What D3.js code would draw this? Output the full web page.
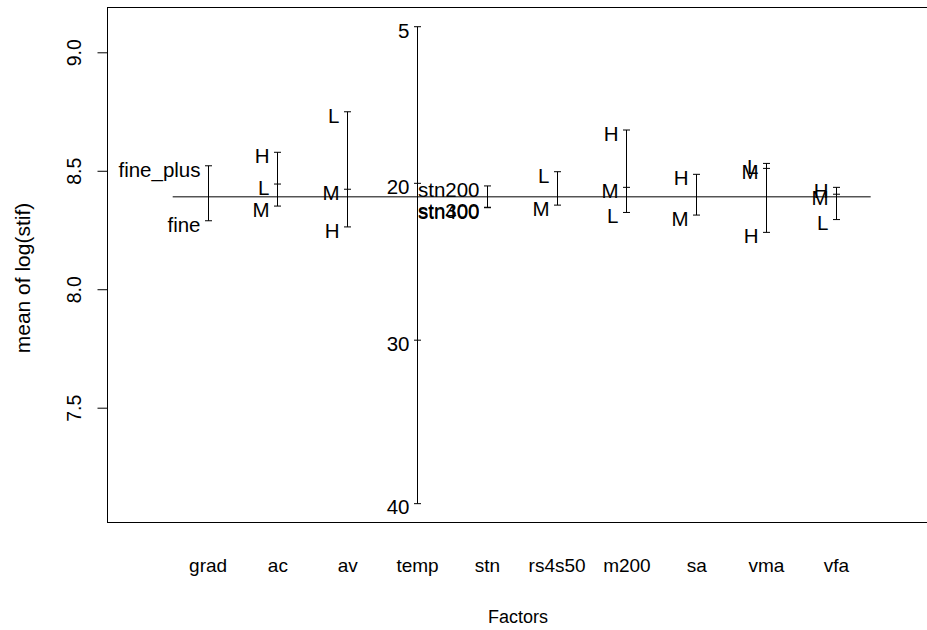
<!DOCTYPE html>
<html>
<head>
<meta charset="utf-8">
<script src="https://cdn.jsdelivr.net/npm/d3@7"></script>
<style>
  html, body { margin: 0; padding: 0; background: #fff; }
  svg { display: block; }
  text { font-family: "Liberation Sans", Arial, Helvetica, sans-serif; fill: #000; }
</style>
</head>
<body>
<svg id="chart" width="927" height="630"></svg>
<script>
// ---- data ----
const factors = ["grad", "ac", "av", "temp", "stn", "rs4s50", "m200", "sa", "vma", "vfa"];
const levelLabels = [
  ["fine_plus", "fine"],
  ["H", "L", "M"],
  ["L", "M", "H"],
  ["5", "20", "30", "40"],
  ["stn200", "stn300", "stn400"],
  ["L", "M"],
  ["H", "M", "L"],
  ["H", "M"],
  ["L", "M", "H"],
  ["H", "M", "L"]
];
const levelMeans = [
  [8.521, 8.289],
  [8.578, 8.444, 8.351],
  [8.749, 8.422, 8.263],
  [9.108, 8.447, 7.785, 7.095],
  [8.436, 8.346, 8.344],
  [8.496, 8.355],
  [8.672, 8.430, 8.324],
  [8.485, 8.313],
  [8.531, 8.510, 8.240],
  [8.430, 8.401, 8.294]
];
const grandMean = 8.390;
const yTicks = [7.5, 8.0, 8.5, 9.0];
const xTitle = "Factors";
const yTitle = "mean of log(stif)";

// ---- layout ----
const svg = d3.select("#chart");
const box = { left: 107, top: 7, right: 937, bottom: 522 };

const x = d3.scaleLinear().domain([0.5, factors.length + 0.5]).range([172.7, 870.7]);
const y = d3.scaleLinear().domain([7.5, 9.0]).range([407.7, 52.3]);

// plot box
svg.append("rect")
  .attr("x", box.left + 0.5).attr("y", box.top + 0.5)
  .attr("width", box.right - box.left).attr("height", box.bottom - box.top)
  .attr("fill", "none").attr("stroke", "#000").attr("stroke-width", 1);

// y axis
const yAxis = d3.axisLeft(y).tickValues(yTicks).tickFormat(d3.format(".1f")).tickSize(10).tickSizeOuter(0);
const gy = svg.append("g").attr("transform", `translate(${box.left + 0.5},0)`).call(yAxis);
gy.select(".domain").remove();
gy.selectAll(".tick line").attr("stroke", "#000");
gy.selectAll(".tick text")
  .attr("x", null).attr("dy", null)
  .attr("transform", "translate(-27,0) rotate(-90)")
  .attr("text-anchor", "middle")
  .attr("font-size", "19.5px")
  .attr("font-family", "'Liberation Sans', Arial, sans-serif");

// x axis labels (factor names, no ticks)
const xAxis = d3.axisBottom(x).tickValues(d3.range(1, factors.length + 1))
  .tickFormat((d) => factors[d - 1]).tickSize(0);
const gx = svg.append("g").attr("transform", `translate(0,${box.bottom})`).call(xAxis);
gx.select(".domain").remove();
gx.selectAll(".tick text")
  .attr("y", 50).attr("dy", null)
  .attr("font-size", "19px")
  .attr("font-family", "'Liberation Sans', Arial, sans-serif");

// titles
svg.append("text").attr("x", 518).attr("y", 623)
  .attr("text-anchor", "middle").attr("font-size", "18px").text(xTitle);
svg.append("text")
  .attr("transform", `translate(30,278) rotate(-90)`)
  .attr("text-anchor", "middle").attr("font-size", "21px").text(yTitle);

// grand mean line
svg.append("line")
  .attr("x1", x(0.5)).attr("x2", x(factors.length + 0.5))
  .attr("y1", y(grandMean)).attr("y2", y(grandMean))
  .attr("stroke", "#000").attr("stroke-width", 1);

// factor segments
factors.forEach((f, i) => {
  const xi = Math.round(x(i + 1)) + 0.5;
  const means = levelMeans[i];
  const g = svg.append("g");
  g.append("line")
    .attr("x1", xi).attr("x2", xi)
    .attr("y1", y(d3.max(means))).attr("y2", y(d3.min(means)))
    .attr("stroke", "#000").attr("stroke-width", 1);
  means.forEach((m, j) => {
    g.append("line")
      .attr("x1", xi - 3.5).attr("x2", xi + 3.5)
      .attr("y1", y(m)).attr("y2", y(m))
      .attr("stroke", "#000").attr("stroke-width", 1);
    g.append("text")
      .attr("x", xi - 8).attr("y", y(m) + 10.8)
      .attr("text-anchor", "end")
      .attr("font-size", "20.5px")
      .text(levelLabels[i][j]);
  });
});
</script>
</body>
</html>
